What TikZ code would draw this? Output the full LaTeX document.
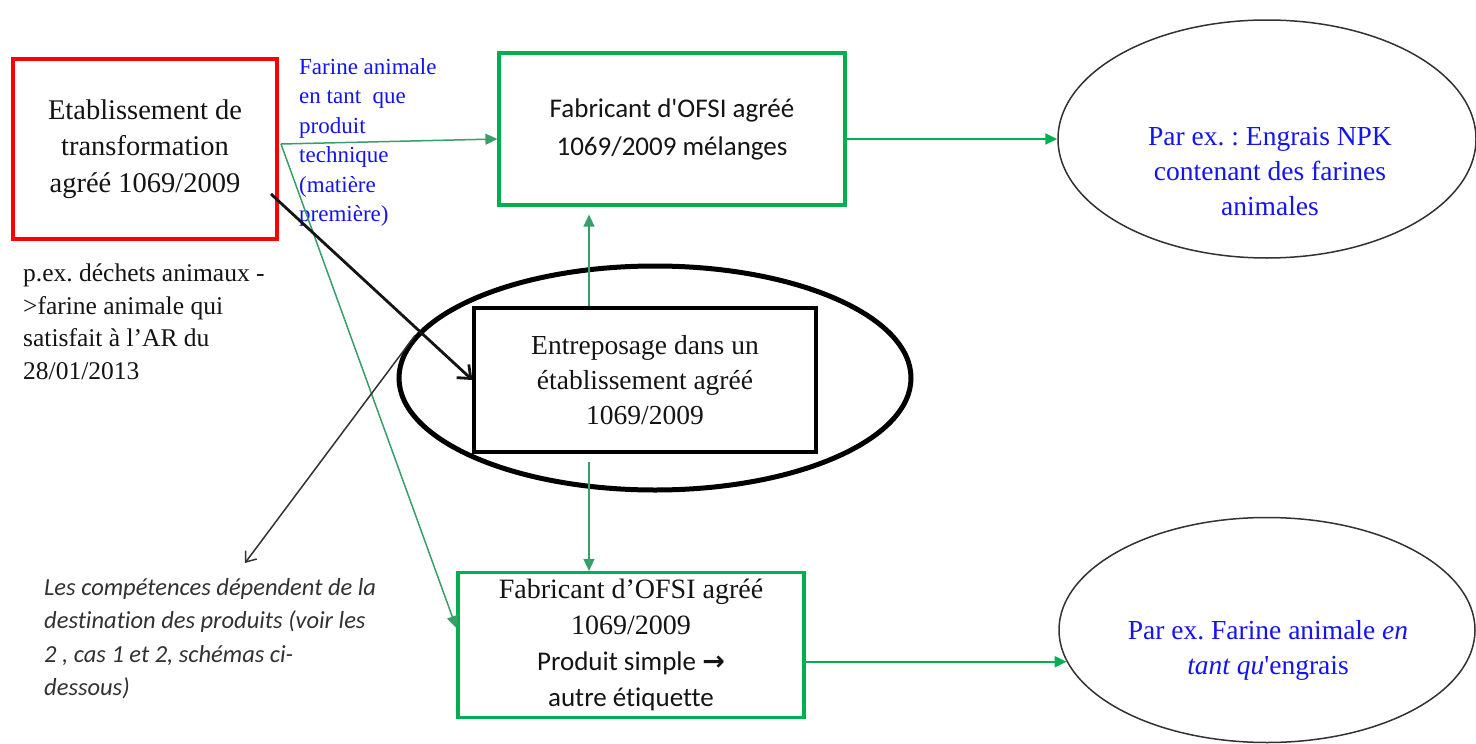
\documentclass[tikz,border=0pt]{standalone}
\usepackage{fontspec}
\setmainfont{Liberation Serif}
\newfontfamily\calib[Ligatures={NoCommon}]{Carlito}
\newfontfamily\dvs{DejaVu Sans}
\usetikzlibrary{shapes.geometric,arrows.meta}
\definecolor{ogreen}{RGB}{0,176,80}
\definecolor{tgreen}{RGB}{55,160,105}
\definecolor{tblue}{RGB}{20,20,240}
\definecolor{tgray}{RGB}{50,50,50}
\definecolor{ink}{RGB}{20,20,20}
\frenchspacing
\begin{document}
\begin{tikzpicture}[x=1pt,y=-1pt,
  serif/.style={font=\fontsize{27}{36}\selectfont, align=center, text=ink},
  box/.style={draw, line width=3.2pt, inner sep=0pt, fill=white},
  garrow/.style={draw=tgreen, line width=1.5pt, -{Triangle[length=12pt,width=11pt]}},
  oarrow/.style={draw=ogreen, line width=1.8pt, -{Triangle[length=12pt,width=11pt]}},
  barrow/.style={draw=ink, line width=2.8pt, -{Straight Barb[length=11pt,width=18pt]}},
  tharrow/.style={draw=tgray, line width=1.5pt, -{Straight Barb[length=9pt,width=14pt]}},
  oval/.style={ellipse, draw=tgray, line width=1.5pt, inner sep=0pt}
]
\useasboundingbox (0,0) rectangle (1476,744);
\fill[white] (0,0) rectangle (1476,744);

% big ellipse around storage
\node[ellipse, draw=black, line width=5pt, minimum width=512pt, minimum height=224pt, inner sep=0pt] (bigell) at (655,378) {};

% boxes
\node[box, draw=red, minimum width=264pt, minimum height=180pt, serif,
  font=\fontsize{28.5}{36.5}\selectfont] (red) at (145,149)
  {Etablissement de\\transformation\\agréé 1069/2009};
\node[box, draw=ogreen, minimum width=346pt, minimum height=152pt, align=center, text=ink,
  font=\calib\fontsize{27}{38}\selectfont] (f1) at (672,129)
  {Fabricant d\textquotesingle OFSI agréé\\1069/2009 mélanges};
\node[box, draw=black, minimum width=342pt, minimum height=144pt, serif,
  font=\fontsize{27.5}{35}\selectfont] (store) at (645,380)
  {Entreposage dans un\\établissement agréé\\1069/2009};
\node[box, draw=ogreen, minimum width=346pt, minimum height=145pt, serif,
  font=\fontsize{28}{36}\selectfont] (f2) at (631,645)
  {Fabricant d’OFSI agréé\\1069/2009\\{\calib\fontsize{27}{36}\selectfont Produit simple {\dvs\bfseries →}}\\{\calib\fontsize{27}{36}\selectfont autre étiquette}};

% right ellipses
\node[oval, minimum width=418pt, minimum height=238pt] (npk) at (1267,139) {};
\node[serif, text=tblue, font=\fontsize{27.5}{35}\selectfont] (npkt) at (1270,172)
  {Par ex. : Engrais NPK\\contenant des farines\\animales};
\node[oval, minimum width=416pt, minimum height=225pt] (ell2) at (1267,630) {};
\node[serif, text=tblue, font=\fontsize{27.5}{35}\selectfont] (ell2t) at (1268,650)
  {Par ex. Farine animale \textit{en}\\\textit{tant qu}\textquotesingle engrais};

% free texts
\node[anchor=north west, align=left, inner sep=0pt, text=tblue,
  font=\fontsize{23}{29.5}\selectfont] (lbl) at (299,58)
  {Farine animale\\en tant \ que\\produit\\technique\\(matière\\première)};
\node[anchor=north west, align=left, inner sep=0pt, text=ink,
  font=\fontsize{25.5}{32.5}\selectfont] (pex) at (23,264)
  {p.ex. déchets animaux -\\>farine animale qui\\satisfait à l’AR du\\28/01/2013};
\node[anchor=north west, align=left, inner sep=0pt, text=tgray,
  font=\calib\itshape\fontsize{24.5}{33.5}\selectfont] (comp) at (44,578)
  {Les compétences dépendent de la\\destination des produits (voir les\\2 , cas 1 et 2, schémas ci-\\dessous)};

% connectors
\coordinate (sp) at (281,144);
\coordinate (bk) at (271,194);
\coordinate (cmp) at (245,563);
\coordinate (ux) at (589,0);
\draw[garrow] (sp) -- ([yshift=-10pt]f1.west);
\draw[garrow] (sp) -- ([yshift=17pt]f2.west);
\draw[barrow] (bk) -- (store.west);
\draw[tharrow] (bigell.170) -- (cmp);
\draw[garrow, shorten >=8pt] (store.north -| ux) -- (f1.south -| ux);
\draw[garrow, shorten <=8pt] (store.south -| ux) -- (f2.north -| ux);
\draw[oarrow] (f1.east |- npk.west) -- (npk.west);
\draw[oarrow] (f2.east |- ell2.189) -- (ell2.189);
\end{tikzpicture}
\end{document}
